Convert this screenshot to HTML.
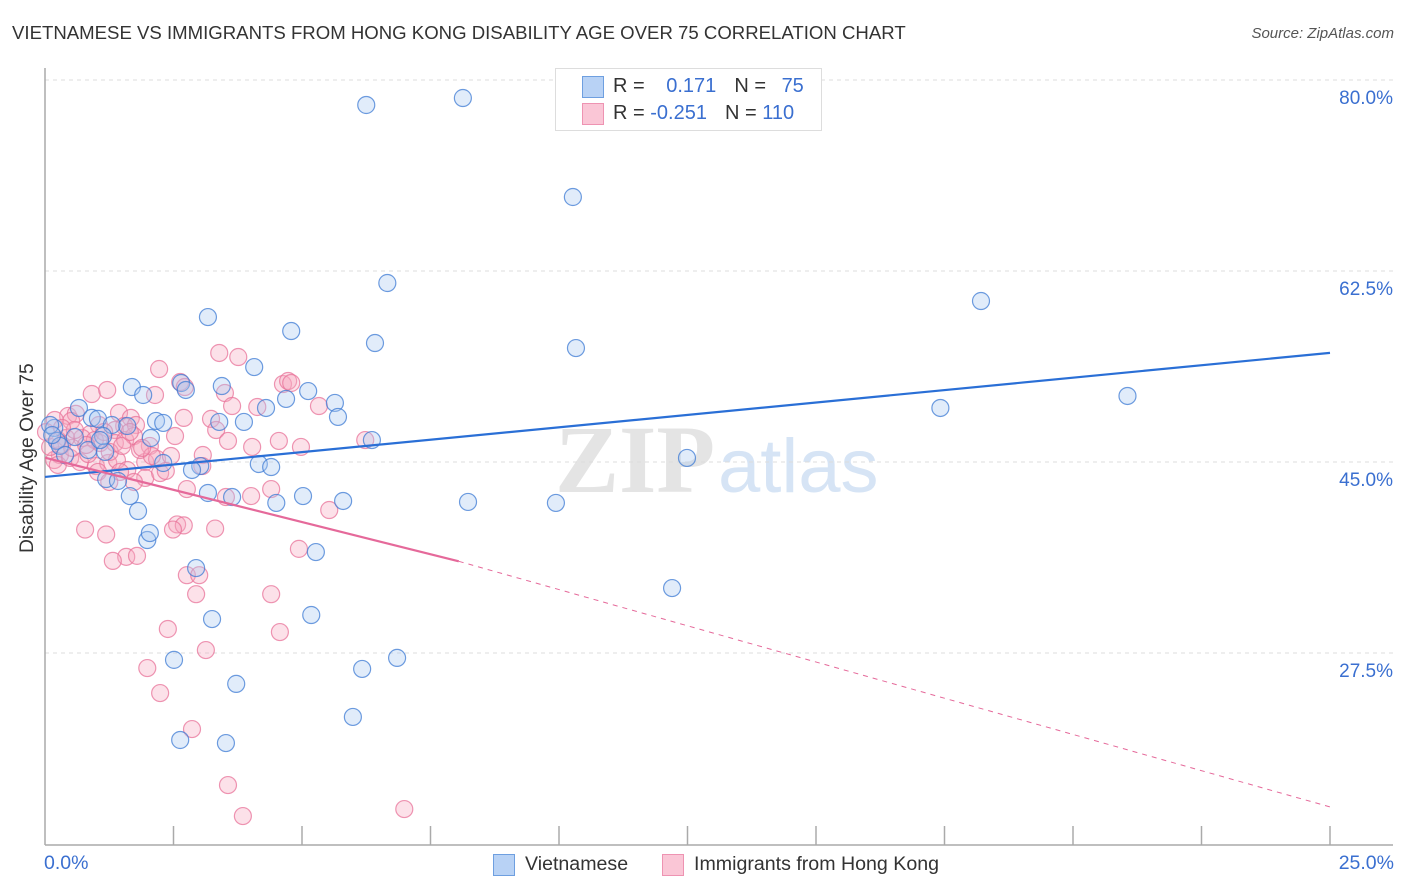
<!DOCTYPE html>
<html><head><meta charset="utf-8"><style>
body{margin:0;background:#fff;font-family:"Liberation Sans",sans-serif;}
#wrap{position:relative;width:1406px;height:892px;overflow:hidden;}
.t{position:absolute;white-space:nowrap;}
</style></head><body>
<div id="wrap">
<div class="t" style="left:12px;top:22px;font-size:18.6px;color:#333;">VIETNAMESE VS IMMIGRANTS FROM HONG KONG DISABILITY AGE OVER 75 CORRELATION CHART</div>
<div class="t" style="right:12px;top:25px;font-size:15px;color:#555;font-style:italic;">Source: ZipAtlas.com</div>
<svg id="svg" width="1406" height="892" style="position:absolute;left:0;top:0;"></svg>
</div>
<script>
const blueX=[6.25,8.13,10.27,6.66,18.21,3.17,4.79,6.42,10.33,4.07,1.69,1.91,2.65,2.74,3.44,5.12,4.69,5.64,5.70,4.30,17.42,21.06,0.66,0.91,1.03,1.30,1.60,2.16,2.30,3.87,3.39,2.06,0.18,0.23,0.29,0.58,0.84,1.17,1.13,6.36,2.30,3.02,2.86,4.16,4.40,12.49,1.19,1.42,1.65,1.81,3.17,3.64,4.50,5.02,5.80,8.23,9.94,1.99,2.04,5.27,2.94,12.20,3.25,5.18,2.51,6.85,6.17,3.72,5.99,2.63,3.52,0.10,0.14,0.39,1.07];
const blueY=[77.71,78.35,69.28,61.40,59.75,58.28,57.0,55.90,55.44,53.70,51.87,51.14,52.24,51.60,51.96,51.50,50.78,50.41,49.13,49.95,49.95,51.05,49.95,49.04,48.95,48.39,48.30,48.76,48.58,48.67,48.67,47.20,48.12,46.93,46.47,47.29,46.10,45.92,47.38,47.01,44.91,44.63,44.27,44.82,44.54,45.37,43.44,43.26,41.88,40.51,42.16,41.79,41.25,41.88,41.43,41.34,41.25,37.85,38.49,36.75,35.28,33.45,30.61,30.98,26.87,27.05,26.04,24.67,21.64,19.53,19.25,48.39,47.47,45.64,47.01];
const pinkX=[2.22,3.39,3.76,2.63,2.72,2.14,0.91,1.21,3.50,4.63,4.73,4.79,3.64,4.13,5.33,0.45,0.60,0.51,1.44,1.67,1.54,1.36,1.77,1.05,2.70,3.23,3.33,0.88,0.72,1.07,1.36,1.56,1.73,2.04,2.53,3.56,4.03,4.55,4.98,6.23,0.29,0.18,0.25,0.49,0.68,0.99,1.23,1.95,2.18,2.45,3.07,3.06,0.33,0.53,0.10,0.19,0.02,1.40,1.60,1.03,1.95,1.73,2.24,2.76,3.52,4.01,4.40,5.53,0.78,1.19,2.57,2.70,2.49,3.31,4.94,1.58,1.32,1.79,2.76,3.00,2.94,4.40,2.39,4.57,3.13,1.99,2.24,2.86,3.56,3.85,6.99,0.84,0.41,0.58,1.26,1.85,2.08,2.35,1.50,0.97,1.15,1.89,0.25,0.33,0.80,1.65,1.46,1.25];
const pinkY=[53.52,54.99,54.62,52.33,51.87,51.14,51.23,51.60,51.32,52.14,52.42,52.24,50.13,50.04,50.13,49.22,49.41,48.76,49.50,49.04,48.30,47.93,48.39,48.39,49.04,48.95,47.93,47.56,47.20,46.74,46.74,47.01,47.38,46.47,47.38,46.93,46.38,46.93,46.38,47.01,45.64,45.18,44.73,45.37,45.00,44.63,44.91,45.00,45.27,45.55,45.64,44.63,46.56,46.29,46.38,48.85,47.75,45.18,44.27,44.09,43.54,43.17,43.99,42.52,41.79,41.88,42.52,40.60,38.81,38.36,39.28,39.19,38.81,38.90,37.04,36.31,35.94,36.40,34.63,34.63,32.89,32.89,29.70,29.42,27.77,26.12,23.83,20.53,15.40,12.56,13.20,45.73,47.20,47.93,45.92,46.10,45.55,44.18,46.47,47.01,47.75,46.29,47.01,48.12,46.56,47.75,44.09,43.17];
const yTicks=[80,62.5,45,27.5];
const yTickLabels=["80.0%","62.5%","45.0%","27.5%"];
const blueTrend=[[0,43.63],[25,55.0]];
const pinkTrend=[[0,45.4],[8.05,35.9],[25,13.4]];

const X0=45,X1=1330,YTOP=80;
const xs=v=>X0+(X1-X0)*v/25;
const ys=v=>YTOP+(80-v)*191/17.5;
const svg=document.getElementById('svg');
const NS='http://www.w3.org/2000/svg';
function mk(tag,attrs,parent){const e=document.createElementNS(NS,tag);for(const k in attrs)e.setAttribute(k,attrs[k]);(parent||svg).appendChild(e);return e;}

let w1=mk('text',{x:555,y:492,'font-size':96,'font-family':'Liberation Serif,serif',fill:'#e4e4e4','font-weight':'bold'});
w1.textContent='ZIP';


let w2=mk('text',{x:718,y:492,'font-size':76,'font-family':'Liberation Sans,sans-serif',fill:'#d6e4f5'});
w2.textContent='atlas';



yTicks.forEach((t,i)=>{
  const g=mk('line',{x1:X0,x2:1393,y1:ys(t),y2:ys(t),stroke:'#dcdcdc','stroke-dasharray':'4,4'});
  
  
  const l=mk('text',{x:1393,y:ys(t)+24,'text-anchor':'end','font-size':19,fill:'#3a6fd0','font-family':'Liberation Sans,sans-serif'});
  l.textContent=yTickLabels[i];
  
  
});
let ax=mk('line',{x1:X0,x2:X0,y1:68,y2:845,stroke:'#aaa','stroke-width':1.5});


let bx=mk('line',{x1:X0,x2:1393,y1:845,y2:845,stroke:'#aaa','stroke-width':1.5});


for(let i=1;i<=10;i++){
  const tk=mk('line',{x1:xs(i*2.5),x2:xs(i*2.5),y1:826,y2:845,stroke:'#aaa','stroke-width':1.5});
  
  
}
function dots(X,Y,fill,stroke,name){
  for(let i=0;i<X.length;i++){
    const c=mk('circle',{cx:xs(X[i]),cy:ys(Y[i]),r:8.5,fill:fill,'fill-opacity':0.35,stroke:stroke,'stroke-opacity':0.75,'stroke-width':1.2});
    
    
  }
}
dots(pinkX,pinkY,'#f7a8c0','#e87399','pink-point');
dots(blueX,blueY,'#a9c8f0','#3d7bd4','blue-point');
let bl=mk('line',{x1:xs(blueTrend[0][0]),y1:ys(blueTrend[0][1]),x2:xs(blueTrend[1][0]),y2:ys(blueTrend[1][1]),stroke:'#2a6fd6','stroke-width':2.2});


let pl=mk('line',{x1:xs(pinkTrend[0][0]),y1:ys(pinkTrend[0][1]),x2:xs(pinkTrend[1][0]),y2:ys(pinkTrend[1][1]),stroke:'#e5699a','stroke-width':2.2});


let pd=mk('line',{x1:xs(pinkTrend[1][0]),y1:ys(pinkTrend[1][1]),x2:xs(pinkTrend[2][0]),y2:ys(pinkTrend[2][1]),stroke:'#e5699a','stroke-width':1,'stroke-dasharray':'5,5'});


</script>
<div class="t" style="left:44px;top:852px;font-size:19.5px;color:#3a6fd0;">0.0%</div>
<div class="t" style="right:12px;top:852px;font-size:19.5px;color:#3a6fd0;">25.0%</div>
<div class="t" style="left:17px;top:553px;font-size:19.3px;color:#333;transform:rotate(-90deg);transform-origin:0 0;">Disability Age Over 75</div>
<div style="position:absolute;left:555px;top:68px;width:265px;height:61px;border:1px solid #ddd;background:#fff;">
  <div style="position:absolute;left:26px;top:7px;width:20px;height:20px;background:#b8d2f5;border:1px solid #6e9fe0;"></div>
  <div style="position:absolute;left:26px;top:34px;width:20px;height:20px;background:#fac6d6;border:1px solid #ee93b2;"></div>
  <div class="t" style="left:57px;top:6px;font-size:20px;color:#333;">R = <span style="color:#3a6fd0;margin-left:16px">0.171</span><span style="margin-left:18px">N = </span><span style="color:#3a6fd0;margin-left:10px">75</span></div>
  <div class="t" style="left:57px;top:33px;font-size:20px;color:#333;">R = <span style="color:#3a6fd0">-0.251</span><span style="margin-left:18px">N = </span><span style="color:#3a6fd0">110</span></div>
</div>
<div style="position:absolute;left:493px;top:854px;width:20px;height:20px;background:#b8d2f5;border:1px solid #6e9fe0;"></div>
<div class="t" style="left:525px;top:853px;font-size:19.6px;color:#333;">Vietnamese</div>
<div style="position:absolute;left:662px;top:854px;width:20px;height:20px;background:#fac6d6;border:1px solid #ee93b2;"></div>
<div class="t" style="left:694px;top:853px;font-size:19.6px;color:#333;">Immigrants from Hong Kong</div>
</body></html>
